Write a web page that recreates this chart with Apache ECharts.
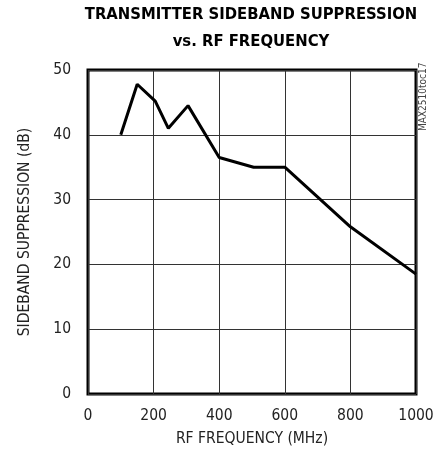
<html>
<head>
	<meta charset="UTF-8">
	<script src="https://cdn.jsdelivr.net/npm/echarts@6/dist/echarts.min.js"></script>
	<title>Transmitter sideband suppression</title>
</head>
<body style="margin:0;background:#fff">
<div id="pic" style="width:443px;height:454px"></div>
<script>
	"use strict";

	const freq=[100,150,205,245,305,400,505,600,800,1000];
	const supp=[40,47.8,45.2,41,44.5,36.5,35,35,25.8,18.5];
	const xTicks=[0,200,400,600,800,1000];
	const yTicks=[0,10,20,30,40,50];

	const narrow="'Liberation Sans Narrow','DejaVu Sans Condensed',sans-serif";
	let pts=[];
	for(let i=0; i<freq.length; i++)
	{pts.push([freq[i],supp[i]]);}

	let pic=echarts.init(document.getElementById("pic"));
	let option=
		{
			animation:false,
			title:{
				text:"TRANSMITTER SIDEBAND SUPPRESSION\nvs. RF FREQUENCY",
				left:251,top:1,padding:0,textAlign:"center",
				textStyle:{fontFamily:narrow,fontWeight:"bold",fontSize:16.5,lineHeight:27,color:"#000"}
			},
			grid:{left:88,right:27,top:70,bottom:60,show:true,borderColor:"#000",borderWidth:3,backgroundColor:"transparent"},
			xAxis:{
				type:"value",min:xTicks[0],max:xTicks[xTicks.length-1],interval:200,
				name:"RF FREQUENCY (MHz)",nameLocation:"middle",nameGap:37,
				nameTextStyle:{fontFamily:narrow,fontSize:15.5,color:"#222"},
				axisLine:{show:false},axisTick:{show:false},
				axisLabel:{fontFamily:narrow,fontSize:15.5,color:"#222",margin:14,formatter:v=>String(v)},
				splitLine:{lineStyle:{color:"#333",width:1}}
			},
			yAxis:{
				type:"value",min:yTicks[0],max:yTicks[yTicks.length-1],interval:10,
				name:"SIDEBAND SUPPRESSION (dB)",nameLocation:"middle",nameGap:55,
				nameTextStyle:{fontFamily:narrow,fontSize:15.5,color:"#222"},
				axisLine:{show:false},axisTick:{show:false},
				axisLabel:{fontFamily:narrow,fontSize:15.5,color:"#222",margin:17},
				splitLine:{lineStyle:{color:"#333",width:1}}
			},
			graphic:[{
				type:"text",x:418,y:131,rotation:Math.PI/2,
				style:{text:"MAX2510toc17",fontFamily:narrow,fontSize:10,fill:"#444"}
			}],
			series:[{
				type:"line",data:pts,symbol:"none",
				lineStyle:{color:"#000",width:3},
				z:5
			}]
		};
	pic.setOption(option);
</script>
</body>
</html>
